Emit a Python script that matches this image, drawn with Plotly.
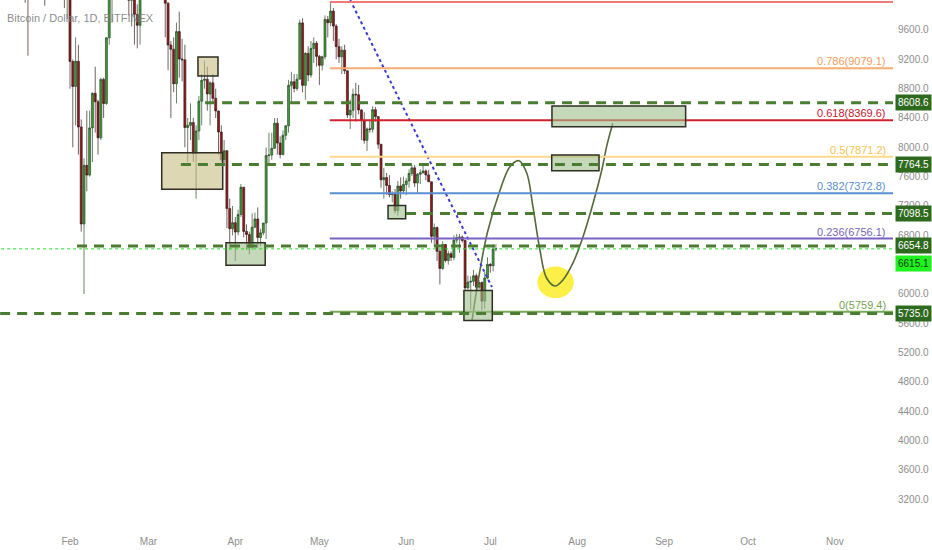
import pandas as pd
import plotly.graph_objects as go

FONT = "Liberation Sans, Arial, sans-serif"

# Daily BTC/USD candles (Jan 12 -> Jul 3 2018)
start_day = "2018-01-12"
opens = [13400, 13980, 14360, 13772, 13819, 11490, 11188, 11474, 11607, 12899, 11600, 10931, 10868, 11359, 11259, 11171, 11441, 11787, 11296, 10106,
         10221, 9170, 8830, 9174, 8277, 6955, 7754, 7621, 8265, 8736, 8621, 8129, 8926, 8598, 9494, 10166, 10233, 11112, 10551, 11225,
         11403, 10690, 10005, 10301, 9813, 9664, 10366, 10725,
         10397, 10951, 11086, 11489, 11512, 11573, 10779, 9965, 9395, 9337, 8866, 9578, 9205, 9194, 8270, 8300, 8338, 7916, 8223, 8630,
         8913, 8929, 8728, 8879, 8668, 8495, 8209, 7833, 7954, 7165, 6890,
         6973, 6845, 7083, 7456, 6853, 6811, 6636, 6911, 7023, 6770, 6834, 6968, 7889, 7895, 7986, 8329, 8058, 7902, 8163, 8294,
         8845, 8895, 8802, 8930, 9697, 8845, 9281, 8987, 9348, 9419,
         9240, 9119, 9235, 9744, 9700, 9858, 9654, 9373, 9234, 9325, 9043, 8441, 8505, 8723, 8716, 8510, 8368, 8095, 8250, 8247,
         8513, 8419, 8042, 7557, 7587, 7480, 7355, 7368, 7136, 7472, 7406,
         7494, 7541, 7644, 7720, 7514, 7633, 7653, 7678, 7624, 7531, 6786, 6906, 6582, 6349, 6675, 6456, 6550, 6499, 6734, 6769,
         6776, 6729, 6083, 6162, 6173, 6249, 6093, 6157, 5903, 6218,
         6404, 6385, 6614]
highs = [14100, 14500, 14500, 14300, 13850, 11700, 12000, 12000, 13000, 12900, 11900, 11300, 11500, 11700, 11600, 11600, 12000, 11800, 11300, 10300,
         10300, 9200, 9500, 9400, 8380, 7850, 8500, 8500, 8750, 9100, 8650, 8950, 8950, 9500, 10200, 10300, 11100, 11250, 11280, 11790,
         11600, 11000, 10400, 10500, 9950, 10450, 10850, 11050,
         11050, 11200, 11550, 11550, 11700, 11600, 11000, 9980, 9450, 9500, 9700, 9850, 9480, 9400, 8400, 8600, 8400, 8300, 8700, 9000,
         9180, 9100, 8900, 9000, 8800, 8500, 8300, 8100, 7960, 7300, 7200,
         7050, 7150, 7500, 7460, 6950, 6850, 7100, 7110, 7180, 6890, 6970, 8000, 8200, 8200, 8400, 8400, 8150, 8230, 8300, 8920,
         9030, 9000, 9000, 9740, 9760, 9300, 9380, 9450, 9500, 9450,
         9260, 9250, 9800, 9790, 9983, 9900, 9680, 9480, 9380, 9400, 9050, 8650, 8800, 8880, 8850, 8520, 8480, 8270, 8380, 8560,
         8550, 8420, 8040, 7720, 7650, 7620, 7400, 7430, 7540, 7590, 7600,
         7580, 7700, 7760, 7760, 7650, 7700, 7760, 7700, 7690, 7531, 6960, 6920, 6620, 6720, 6680, 6590, 6580, 6800, 6820, 6820,
         6800, 6740, 6250, 6240, 6330, 6280, 6190, 6170, 6300, 6500,
         6420, 6680, 6680]
lows = [12800, 13900, 13200, 13400, 9970, 9250, 10800, 11200, 11600, 11100, 10050, 9930, 10500, 10980, 10400, 10900, 11400, 11100, 9900, 9750,
        8800, 8000, 8300, 7900, 6850, 6000, 7400, 7600, 7800, 8200, 7900, 8100, 8400, 8580, 9400, 9700, 10100, 10100, 10500, 11100,
        10300, 9800, 9650, 9400, 9350, 9400, 10200, 10300,
        10300, 10800, 11000, 11100, 11400, 10600, 9500, 9050, 8400, 8750, 8600, 8950, 8900, 8000, 7800, 8100, 7800, 7300, 8100, 8300,
        8800, 8500, 8300, 8600, 8400, 7900, 7800, 7750, 6900, 6600, 6800,
        6450, 6800, 7050, 6770, 6600, 6540, 6600, 6900, 6630, 6650, 6800, 6750, 7750, 7830, 7980, 7900, 7850, 7890, 8100, 8200,
        8600, 8750, 8770, 8930, 8750, 8650, 8900, 8950, 9150, 9100,
        8850, 9050, 9200, 9500, 9650, 9450, 9200, 9150, 9000, 9000, 8400, 8250, 8400, 8350, 8450, 8100, 8050, 7950, 8200, 8200,
        8350, 7980, 7450, 7300, 7350, 7320, 7250, 7100, 7070, 7300, 7380,
        7350, 7450, 7610, 7460, 7380, 7500, 7640, 7550, 7530, 6700, 6650, 6450, 6130, 6330, 6430, 6400, 6450, 6460, 6690, 6560,
        6700, 6050, 6060, 5785, 6110, 6050, 6060, 5780, 5800, 6200,
        6290, 6310, 6580]
closes = opens[1:] + [6615.1]

# Drawing objects (dates, prices)
h_levels = [8608.6, 7764.5, 7098.5, 6654.8, 5735.0]
h_starts = ["2018-03-21 05:00", "2018-03-12 14:00", "2018-05-31 22:00", "2018-02-03 12:00", "2018-01-01"]

fib_ratios = [1, 0.786, 0.618, 0.5, 0.382, 0.236, 0]
fib_prices = [9982.7, 9079.1, 8369.6, 7871.2, 7372.8, 6756.1, 5759.4]
fib_colors = ["#f07a7a", "#f7ab72", "#d2222c", "#ffd98c", "#5b8fd3", "#7b62c2", "#79aa58"]
fib_text_colors = ["#f07a7a", "#f29d5e", "#c42030", "#f3c34e", "#5b8fd3", "#7765b5", "#76a255"]
fib_start = "2018-05-04 17:00"

boxes_x0 = ["2018-03-18 16:00", "2018-03-05 17:30", "2018-03-28 16:00", "2018-05-25 12:00", "2018-06-21 14:00", "2018-07-22 22:00", "2018-07-23 00:00"]
boxes_x1 = ["2018-03-25 19:40", "2018-03-27 12:00", "2018-04-11 16:00", "2018-05-31 19:00", "2018-07-01 17:00", "2018-08-08 19:00", "2018-09-08 17:00"]
boxes_y0 = [8973, 7428, 6391, 7025, 5640, 7681, 8281]
boxes_y1 = [9232, 7927, 6700, 7206, 6049, 7895, 8564]
boxes_fill = ["rgba(200,188,130,0.6)", "rgba(200,188,130,0.6)", "rgba(160,190,140,0.6)", "rgba(160,190,140,0.6)",
              "rgba(160,190,140,0.6)", "rgba(160,190,140,0.6)", "rgba(160,190,140,0.6)"]

path_dates = ["2018-06-24 12:00", "2018-06-26 22:00", "2018-06-29 22:00", "2018-07-04 12:00", "2018-07-08 00:00", "2018-07-11 05:00",
              "2018-07-14 00:00", "2018-07-16 05:00", "2018-07-18 17:00", "2018-07-21 02:00", "2018-07-24 02:00", "2018-07-26 22:00",
              "2018-07-30 12:00", "2018-08-03 02:00", "2018-08-06 17:00", "2018-08-09 19:00", "2018-08-11 12:00", "2018-08-13 17:00"]
path_prices = [5645, 6236, 6832, 7418, 7736, 7818, 7650, 7190, 6600, 6218, 6109, 6191, 6423, 6781, 7241, 7691, 8009, 8328]

trend_dates = ["2018-05-12 00:00", "2018-07-01 14:00"]
trend_prices = [10009, 6095]

ellipse_dates = ["2018-07-17 19:00", "2018-07-30 19:00"]
ellipse_prices = [5944, 6375]

last_price = 6615.1
price_ticks = list(range(3200, 10000, 400))
month_ticks = ["2018-02-01", "2018-03-01", "2018-04-01", "2018-05-01", "2018-06-01", "2018-07-01",
               "2018-08-01", "2018-09-01", "2018-10-01", "2018-11-01"]

dates = pd.date_range(start_day, periods=len(opens), freq="D")

fig = go.Figure()

fig.add_trace(go.Candlestick(
    x=dates, open=opens, high=highs, low=lows, close=closes,
    increasing=dict(fillcolor="#3a9f33", line=dict(color="#2d4a2a", width=0.7)),
    decreasing=dict(fillcolor="#961818", line=dict(color="#3a1c1c", width=0.7)),
    hoverinfo="skip", showlegend=False,
))

# forecast path
fig.add_trace(go.Scatter(
    x=path_dates, y=path_prices, mode="lines",
    line=dict(color="#55693a", width=1.6, shape="spline", smoothing=1.0),
    hoverinfo="skip", showlegend=False,
))

# dotted trendline
fig.add_trace(go.Scatter(
    x=trend_dates, y=trend_prices, mode="lines",
    line=dict(color="#3a3ad8", width=2, dash="dot"),
    hoverinfo="skip", showlegend=False,
))

shapes = []
far_right = "2018-12-31"

# yellow ellipse (below traces)
shapes.append(dict(type="circle", xref="x", yref="y", layer="below",
                   x0=ellipse_dates[0], x1=ellipse_dates[1], y0=ellipse_prices[0], y1=ellipse_prices[1],
                   fillcolor="rgba(250,236,40,0.85)", line=dict(width=0)))

# fib lines
for p, c in zip(fib_prices, fib_colors):
    shapes.append(dict(type="line", xref="x", yref="y", x0=fib_start, x1=far_right, y0=p, y1=p,
                       line=dict(color=c, width=2)))

# rectangles
for x0, x1, y0, y1, fc in zip(boxes_x0, boxes_x1, boxes_y0, boxes_y1, boxes_fill):
    shapes.append(dict(type="rect", xref="x", yref="y", x0=x0, x1=x1, y0=y0, y1=y1,
                       fillcolor=fc, line=dict(color="#2e2e22", width=1.5)))

# dashed horizontal levels
for p, s in zip(h_levels, h_starts):
    shapes.append(dict(type="line", xref="x", yref="y", x0=s, x1=far_right, y0=p, y1=p,
                       line=dict(color="#4a7d31", width=3, dash="10px,7px")))

# last price dotted line
shapes.append(dict(type="line", xref="x", yref="y", x0="2018-01-01", x1=far_right, y0=last_price, y1=last_price,
                   line=dict(color="#22dd22", width=1, dash="dot")))

annotations = []
annotations.append(dict(xref="paper", yref="paper", x=0, y=1, xanchor="left", yanchor="top",
                        xshift=5, yshift=-10, showarrow=False, text="Bitcoin / Dollar, 1D, BITFINEX",
                        font=dict(family=FONT, size=11, color="rgba(125,125,125,0.9)")))

for r, p, c in zip(fib_ratios[1:], fib_prices[1:], fib_text_colors[1:]):
    annotations.append(dict(xref="paper", yref="y", x=1, y=p, xanchor="right", yanchor="bottom",
                            xshift=-5, yshift=-1, showarrow=False, text=f"{r}({p})",
                            font=dict(family=FONT, size=11, color=c)))

for p in h_levels:
    annotations.append(dict(xref="paper", yref="y", x=1, y=p, xanchor="left", yanchor="middle",
                            xshift=2, showarrow=False, text=f"{p:.1f}", bgcolor="#2e6a1e",
                            borderpad=2, font=dict(family=FONT, size=10, color="white")))

annotations.append(dict(xref="paper", yref="y", x=1, y=last_price, xanchor="left", yanchor="middle",
                        xshift=2, yshift=-15, showarrow=False, text=f"{last_price:.1f}", bgcolor="#1ff21f",
                        borderpad=2, font=dict(family=FONT, size=10, color="#173a17")))

fig.update_layout(
    width=932, height=550,
    margin=dict(l=0, r=39, t=0, b=22),
    paper_bgcolor="white", plot_bgcolor="white",
    shapes=shapes, annotations=annotations,
    showlegend=False, boxgap=0.0,
    xaxis=dict(
        type="date", range=["2018-01-07 00:29", "2018-11-21 17:00"],
        rangeslider=dict(visible=False), showgrid=False, zeroline=False,
        tickvals=month_ticks, tickformat="%b", ticks="", ticklabelstandoff=6,
        tickfont=dict(family=FONT, size=10, color="#8e8e8e"), showline=False,
    ),
    yaxis=dict(
        side="right", range=[2809, 10009], showgrid=False, zeroline=False,
        tickvals=price_ticks, tickformat=".1f", ticks="", ticklabelstandoff=4,
        tickfont=dict(family=FONT, size=10, color="#8e8e8e"), showline=False,
    ),
)

fig.write_html("out.html", config={"displayModeBar": False},
               post_script="document.body.style.margin='0';document.body.style.overflow='hidden';")
